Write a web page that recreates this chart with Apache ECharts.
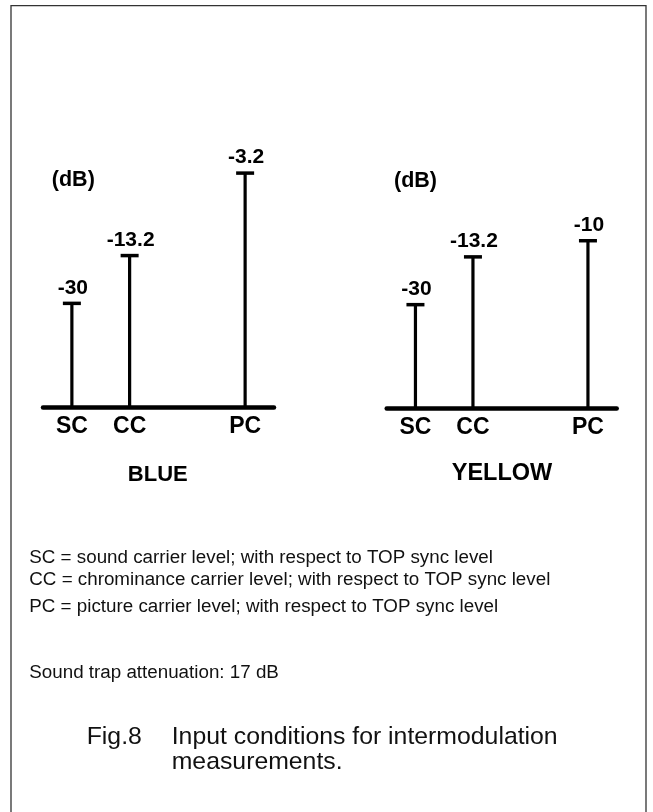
<!DOCTYPE html>
<html>
<head>
<meta charset="utf-8">
<script src="https://cdn.jsdelivr.net/npm/echarts@6/dist/echarts.min.js"></script>
<style>
html,body{margin:0;padding:0;background:#fff;}
#chart{width:653px;height:812px;}
</style>
</head>
<body>
<div id="chart"></div>
<script>
// ---- data ----
var carriers = ['SC', 'CC', 'PC'];
var axisSlots = ['SC', 'CC', '', 'PC'];          // schematic spacing of the carriers
var blueLevels = [-30, -13.2, -3.2];              // dB w.r.t. top sync level
var yellowLevels = [-30, -13.2, -10];
var panelTitles = ['BLUE', 'YELLOW'];
var unitLabel = '(dB)';
var notes = [
  'SC = sound carrier level; with respect to TOP sync level',
  'CC = chrominance carrier level; with respect to TOP sync level',
  'PC = picture carrier level; with respect to TOP sync level'
];
var trapNote = 'Sound trap attenuation: 17 dB';
var figLabel = 'Fig.8';
var captionLines = ['Input conditions for intermodulation', 'measurements.'];

// schematic (non-linear) level axis: depth below sync level on a log scale
var AXIS_TOP = 1, AXIS_BASE = 178;

function toSeriesData(levels) {
  return carriers.map(function (c, i) {
    return [axisSlots.indexOf(c), -levels[i], levels[i]];
  });
}

var FONT = 'Liberation Sans, Arial, Helvetica, sans-serif';

function renderStem(params, api) {
  var slot = api.value(0);
  var depth = api.value(1);
  var level = api.value(2);
  var top = api.coord([slot, depth]);
  var base = api.coord([slot, AXIS_BASE]);
  return {
    type: 'group',
    children: [
      { type: 'line', shape: { x1: base[0], y1: base[1], x2: top[0], y2: top[1] },
        style: { stroke: '#000', lineWidth: 3.2 } },
      { type: 'line', shape: { x1: top[0] - 9, y1: top[1], x2: top[0] + 9, y2: top[1] },
        style: { stroke: '#000', lineWidth: 3.5 } },
      { type: 'text', x: top[0] + 1, y: top[1] - 15.5,
        style: { text: String(level), fontFamily: FONT, fontWeight: 'bold', fontSize: 21,
                 fill: '#000', align: 'center', verticalAlign: 'middle' } }
    ]
  };
}

function xAxisCfg(gi) {
  return {
    type: 'category', gridIndex: gi, data: axisSlots, boundaryGap: true,
    axisLine: { onZero: false, lineStyle: { color: '#000', width: 4.5 } },
    axisTick: { show: false },
    axisLabel: { interval: 0, margin: 8, color: '#000', fontFamily: FONT,
                 fontWeight: 'bold', fontSize: 23 },
    splitLine: { show: false }
  };
}
function yAxisCfg(gi) {
  return {
    type: 'log', gridIndex: gi, inverse: true, min: AXIS_TOP, max: AXIS_BASE,
    show: false, splitLine: { show: false }
  };
}

var chart = echarts.init(document.getElementById('chart'), null, { renderer: 'canvas' });

var graphics = [
  { type: 'rect', shape: { x: 11, y: 5.7, width: 635, height: 830 },
    style: { fill: 'none', stroke: '#333', lineWidth: 1.3 }, silent: true },
  { type: 'text', x: 73.3, y: 180.5,
    style: { text: unitLabel, fontFamily: FONT, fontWeight: 'bold', fontSize: 21.5, fill: '#000',
             align: 'center', verticalAlign: 'middle' } },
  { type: 'text', x: 415.5, y: 180.7,
    style: { text: unitLabel, fontFamily: FONT, fontWeight: 'bold', fontSize: 21.5, fill: '#000',
             align: 'center', verticalAlign: 'middle' } },
  { type: 'text', x: 157.8, y: 475,
    style: { text: panelTitles[0], fontFamily: FONT, fontWeight: 'bold', fontSize: 22, fill: '#000',
             align: 'center', verticalAlign: 'middle' } },
  { type: 'text', x: 502, y: 473.5,
    style: { text: panelTitles[1], fontFamily: FONT, fontWeight: 'bold', fontSize: 23.5, fill: '#000',
             align: 'center', verticalAlign: 'middle' } }
];
var noteY = [558.2, 579.9, 607.2];
notes.forEach(function (t, i) {
  graphics.push({ type: 'text', x: 29.3, y: noteY[i],
    style: { text: t, fontFamily: FONT, fontSize: 18.8, fill: '#111', align: 'left', verticalAlign: 'middle' } });
});
graphics.push({ type: 'text', x: 29.3, y: 672.5,
  style: { text: trapNote, fontFamily: FONT, fontSize: 18.8, fill: '#111', align: 'left', verticalAlign: 'middle' } });
graphics.push({ type: 'text', x: 86.7, y: 737,
  style: { text: figLabel, fontFamily: FONT, fontSize: 24.8, fill: '#111', align: 'left', verticalAlign: 'middle' } });
graphics.push({ type: 'text', x: 171.7, y: 737,
  style: { text: captionLines[0], fontFamily: FONT, fontSize: 24.8, fill: '#111', align: 'left', verticalAlign: 'middle' } });
graphics.push({ type: 'text', x: 171.7, y: 762.5,
  style: { text: captionLines[1], fontFamily: FONT, fontSize: 24.8, fill: '#111', align: 'left', verticalAlign: 'middle' } });

chart.setOption({
  backgroundColor: '#fff',
  animation: false,
  grid: [
    { left: 43, top: 105.4, width: 231, height: 301.6 },
    { left: 386.7, top: 106.7, width: 230, height: 301.6 }
  ],
  xAxis: [xAxisCfg(0), xAxisCfg(1)],
  yAxis: [yAxisCfg(0), yAxisCfg(1)],
  series: [
    { name: panelTitles[0], type: 'custom', xAxisIndex: 0, yAxisIndex: 0, clip: false,
      renderItem: renderStem, data: toSeriesData(blueLevels) },
    { name: panelTitles[1], type: 'custom', xAxisIndex: 1, yAxisIndex: 1, clip: false,
      renderItem: renderStem, data: toSeriesData(yellowLevels) }
  ],
  graphic: graphics
});
</script>
</body>
</html>
